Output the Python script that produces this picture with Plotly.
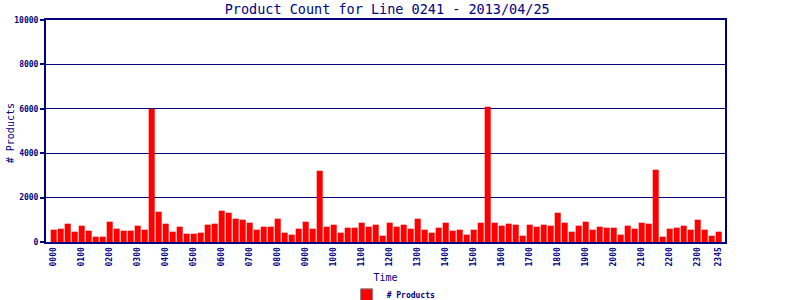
import plotly.graph_objects as go

# 15-minute slots 0000..2345
times = [f"{h:02d}{m:02d}" for h in range(24) for m in (0, 15, 30, 45)]
counts = [
    555, 600, 825, 465, 735, 510, 240, 240, 915, 600, 510, 510, 735, 555, 6000, 1365,
    825, 465, 690, 375, 375, 420, 780, 825, 1410, 1320, 1050, 1005, 870, 555, 690, 690,
    1050, 420, 330, 600, 915, 600, 3210, 690, 780, 420, 645, 645, 870, 690, 780, 285,
    870, 690, 780, 600, 1050, 555, 420, 645, 870, 510, 555, 330, 555, 870, 6090, 870,
    735, 825, 780, 285, 780, 690, 780, 735, 1320, 870, 465, 735, 915, 555, 690, 645,
    645, 330, 735, 600, 870, 825, 3255, 240, 600, 645, 735, 555, 1005, 555, 285, 465,
]
tick_labels = [t for i, t in enumerate(times) if i % 4 == 0] + ["2345"]
tick_idx = [i for i in range(len(times)) if i % 4 == 0] + [len(times) - 1]
y_ticks = [0, 2000, 4000, 6000, 8000, 10000]

navy = "#000080"
mono = "DejaVu Sans Mono"

fig = go.Figure()
fig.add_trace(go.Bar(
    x=list(range(len(times))), y=counts, name="# Products", showlegend=False,
    marker=dict(color="#FF0000", line=dict(width=0)), width=0.86,
))
# legend-only entry (swatch with grey border as in the reference)
fig.add_trace(go.Bar(
    x=[None], y=[None], name="# Products", showlegend=True,
    marker=dict(color="#FF0000", line=dict(width=1, color="#808080")),
))

fig.update_layout(
    width=800, height=300,
    margin=dict(l=46, r=75, t=20, b=58, autoexpand=False),
    paper_bgcolor="white", plot_bgcolor="white",
    title=dict(text="Product Count for Line 0241 - 2013/04/25", x=0.484, xanchor="center",
               y=0.97, yanchor="middle",
               font=dict(family=mono, size=13.5, color=navy)),
    showlegend=True,
    legend=dict(orientation="h", x=0.512, xanchor="center", y=-0.238, yanchor="middle",
                font=dict(family=mono, size=8, color=navy, weight="bold"),
                itemwidth=30, tracegroupgap=0),
    bargap=0.14,
    annotations=[dict(text="# Products", xref="paper", yref="paper", x=-0.053, y=0.49,
                      xanchor="center", yanchor="middle", textangle=-90, showarrow=False,
                      font=dict(family=mono, size=10, color=navy))],
)
fig.update_xaxes(
    automargin=False,
    range=[-1.1, 95.9], tickmode="array", tickvals=tick_idx, ticktext=tick_labels,
    tickangle=-90, tickfont=dict(family=mono, size=8, color=navy, weight="bold"),
    showline=True, linecolor=navy, linewidth=2, mirror=True, showgrid=False,
    ticks="", title=dict(text="Time", font=dict(family=mono, size=10, color=navy), standoff=9),
)
fig.update_yaxes(
    automargin=False,
    range=[0, 10000], tickmode="array", tickvals=y_ticks, ticktext=[str(v) for v in y_ticks],
    tickfont=dict(family=mono, size=8, color=navy, weight="bold"),
    showline=True, linecolor=navy, linewidth=2, mirror=True,
    showgrid=True, gridcolor=navy, gridwidth=1.3,
    ticks="outside", ticklen=4, tickcolor=navy, tickwidth=2,
    zeroline=False,
)

fig.write_html("out.html")
